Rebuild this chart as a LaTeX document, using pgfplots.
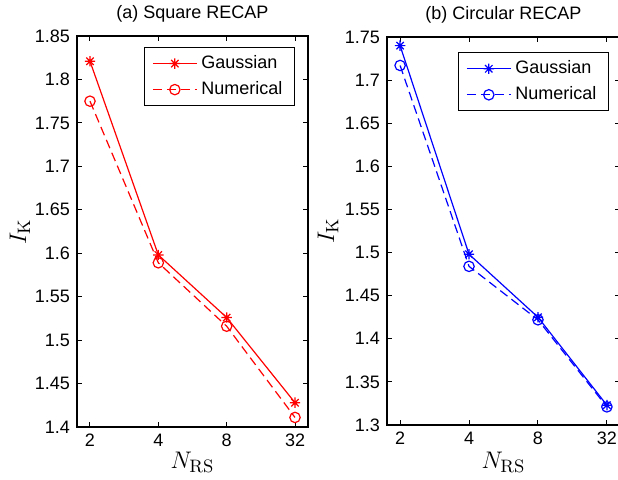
\documentclass[border=0pt]{standalone}
\usepackage[no-math]{fontspec}
\setmainfont{Liberation Sans}
\usepackage{pgfplots}
\pgfplotsset{compat=1.18}

% MATLAB-style '*' marker: plus and cross together
\pgfdeclareplotmark{mstar}{%
  \pgfpathmoveto{\pgfqpoint{-\pgfplotmarksize}{0pt}}%
  \pgfpathlineto{\pgfqpoint{\pgfplotmarksize}{0pt}}%
  \pgfpathmoveto{\pgfqpoint{0pt}{-\pgfplotmarksize}}%
  \pgfpathlineto{\pgfqpoint{0pt}{\pgfplotmarksize}}%
  \pgfpathmoveto{\pgfqpoint{-0.707\pgfplotmarksize}{-0.707\pgfplotmarksize}}%
  \pgfpathlineto{\pgfqpoint{0.707\pgfplotmarksize}{0.707\pgfplotmarksize}}%
  \pgfpathmoveto{\pgfqpoint{-0.707\pgfplotmarksize}{0.707\pgfplotmarksize}}%
  \pgfpathlineto{\pgfqpoint{0.707\pgfplotmarksize}{-0.707\pgfplotmarksize}}%
  \pgfusepathqstroke}

\newcommand{\tickfont}{\fontsize{9}{10.8}\selectfont}

\pgfplotsset{
  mstyle/.style={
    scale only axis,
    anchor=south west,
    xmin=0.81, xmax=4.19,
    xtick={1,2,3,4}, xticklabels={2,4,8,32},
    tick align=inside,
    major tick length=2.5pt,
    axis line style={line width=0.6pt},
    every tick/.style={black, line width=0.5pt},
    /pgf/number format/assume math mode=true,
    /pgf/number format/fixed,
    /pgf/number format/precision=2,
    xticklabel style={font=\tickfont},
    yticklabel style={font=\tickfont},
    label style={font=\fontsize{12.5}{14}\selectfont},
    title style={font=\tickfont, yshift=-2.5pt},
    legend style={font=\tickfont, anchor=north east,
      draw=black, line width=0.6pt, cells={anchor=west},
      inner xsep=4pt, inner ysep=2pt, row sep=1pt},
    legend image code/.code={%
      \draw[mark repeat=2,mark phase=2,#1] plot coordinates {(0pt,0pt) (11pt,0pt) (22pt,0pt)};},
    every axis plot/.append style={line width=0.6pt, mark size=2.6pt},
    mdash/.style={dash pattern=on 4.5pt off 2.5pt},
  },
}

\begin{document}
\begin{tikzpicture}
\useasboundingbox (0,0) rectangle (309pt,239.5pt);

\begin{axis}[
  mstyle,
  at={(38.5pt,26pt)},
  width=115.5pt, height=195.5pt,
  ymin=1.4, ymax=1.85,
  ytick={1.4,1.45,1.5,1.55,1.6,1.65,1.7,1.75,1.8,1.85},
  title={(a) Square RECAP},
  xlabel={$N_{\mathrm{RS}}$},
  ylabel={$I_{\mathrm{K}}$},
  xlabel style={at={(axis description cs:0.5,-0.09)}, anchor=center},
  ylabel style={at={(axis description cs:-0.247,0.5)}, anchor=center},
  legend style={at={(0.944,0.972)}},
]
\addplot[color=red, solid, mark=mstar] coordinates {
(1,1.821) (2,1.598) (3,1.526) (4,1.428)
};
\addlegendentry{Gaussian}
\addplot[color=red, mdash, mark=o, mark options={solid}] coordinates {
(1,1.775) (2,1.589) (3,1.516) (4,1.411)
};
\addlegendentry{Numerical}
\end{axis}

\begin{axis}[
  mstyle,
  at={(193.5pt,27pt)},
  width=116.5pt, height=194pt,
  ymin=1.3, ymax=1.75,
  ytick={1.3,1.35,1.4,1.45,1.5,1.55,1.6,1.65,1.7,1.75},
  title={(b) Circular RECAP},
  xlabel={$N_{\mathrm{RS}}$},
  ylabel={$I_{\mathrm{K}}$},
  xlabel style={at={(axis description cs:0.5,-0.095)}, anchor=center},
  ylabel style={at={(axis description cs:-0.253,0.5)}, anchor=center},
  legend style={at={(0.953,0.961)}},
]
\addplot[color=blue, solid, mark=mstar] coordinates {
(1,1.740) (2,1.498) (3,1.425) (4,1.323)
};
\addlegendentry{Gaussian}
\addplot[color=blue, mdash, mark=o, mark options={solid}] coordinates {
(1,1.717) (2,1.484) (3,1.422) (4,1.321)
};
\addlegendentry{Numerical}
\end{axis}
\end{tikzpicture}
\end{document}
